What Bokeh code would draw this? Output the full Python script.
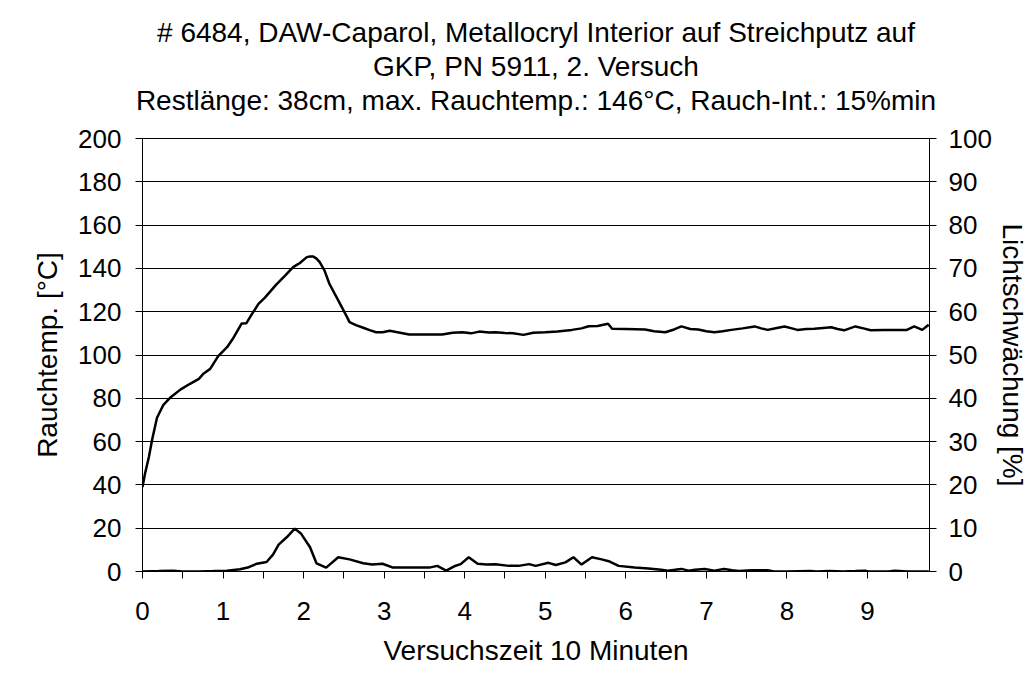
from bokeh.plotting import figure
from bokeh.models import Range1d, LinearAxis, FixedTicker, Title
from bokeh.embed import file_html
from bokeh.resources import INLINE

# ---- data ----
temp_time = [0.00, 0.03, 0.08, 0.12, 0.18, 0.26, 0.35, 0.47, 0.59, 0.70, 0.76, 0.84, 0.94,
             1.05, 1.13, 1.23, 1.29, 1.36, 1.44, 1.52, 1.59, 1.66, 1.77, 1.87, 1.91, 1.95,
             2.04, 2.08, 2.12, 2.16, 2.20, 2.26, 2.32, 2.43, 2.53, 2.57, 2.65, 2.74, 2.82,
             2.90, 2.98, 3.07, 3.15, 3.31, 3.50, 3.72, 3.85, 3.97, 4.08, 4.18, 4.30, 4.38,
             4.50, 4.60, 4.73, 4.85, 5.00, 5.15, 5.33, 5.45, 5.54, 5.65, 5.78, 5.83, 6.00,
             6.12, 6.24, 6.35, 6.49, 6.60, 6.69, 6.80, 6.90, 7.00, 7.10, 7.20, 7.31, 7.45,
             7.60, 7.68, 7.76, 7.86, 7.97, 8.05, 8.13, 8.24, 8.34, 8.45, 8.55, 8.63, 8.71,
             8.78, 8.85, 8.95, 9.04, 9.20, 9.35, 9.49, 9.58, 9.68, 9.76]
temp_values = [39, 45, 53, 61, 71, 77, 80.5, 84, 86.7, 89, 91.5, 93.6, 99.5,
               103.6, 108, 114.5, 114.7, 119, 123.6, 126.5, 129.5, 132.5, 136.7, 140.6, 141.5, 142.4,
               145.2, 145.5, 145.5, 144.5, 142.9, 139, 132.9, 125.2, 118.2, 115.2, 113.8, 112.6, 111.5,
               110.5, 110.5, 111.2, 110.6, 109.5, 109.5, 109.5, 110.3, 110.5, 110.0, 110.8, 110.4, 110.5,
               110.2, 110.0, 109.3, 110.3, 110.5, 110.9, 111.6, 112.3, 113.3, 113.4, 114.4, 112.1, 112.0,
               111.9, 111.8, 111.0, 110.5, 111.8, 113.2, 112.0, 111.8, 111.0, 110.5, 111.0, 111.6, 112.3,
               113.2, 112.3, 111.6, 112.4, 113.2, 112.4, 111.6, 112.0, 112.1, 112.5, 112.8, 112.0, 111.4,
               112.3, 113.2, 112.3, 111.4, 111.5, 111.6, 111.6, 113.2, 111.6, 114.0]

light_time = [0.00, 0.20, 0.38, 0.49, 0.70, 0.88, 1.05, 1.21, 1.32, 1.42, 1.54, 1.62, 1.69,
              1.79, 1.89, 1.97, 2.08, 2.16, 2.28, 2.43, 2.57, 2.74, 2.85, 2.98, 3.11, 3.30,
              3.56, 3.66, 3.77, 3.87, 3.95, 4.05, 4.16, 4.27, 4.38, 4.55, 4.67, 4.80, 4.88,
              5.04, 5.13, 5.25, 5.35, 5.45, 5.58, 5.70, 5.80, 5.91, 6.11, 6.28, 6.44, 6.52,
              6.61, 6.69, 6.78, 6.86, 6.98, 7.10, 7.22, 7.32, 7.40, 7.57, 7.76, 7.84, 8.00,
              8.29, 8.37, 8.53, 8.70, 8.85, 8.97, 9.01, 9.26, 9.34, 9.50, 9.69, 9.76]
light_values = [0.0, 0.1, 0.2, 0.0, 0.0, 0.1, 0.2, 0.5, 1.0, 1.8, 2.2, 3.9, 6.2,
                7.9, 9.9, 8.7, 5.6, 1.9, 0.9, 3.3, 2.8, 1.9, 1.6, 1.8, 0.9, 0.9,
                0.9, 1.3, 0.2, 1.2, 1.7, 3.3, 1.8, 1.6, 1.7, 1.3, 1.3, 1.7, 1.3,
                2.0, 1.5, 2.1, 3.3, 1.6, 3.3, 2.8, 2.3, 1.3, 0.9, 0.7, 0.4, 0.2,
                0.4, 0.6, 0.2, 0.4, 0.6, 0.2, 0.6, 0.3, 0.1, 0.3, 0.3, 0.0, 0.0,
                0.1, 0.0, 0.1, 0.0, 0.1, 0.2, 0.0, 0.0, 0.2, 0.0, 0.0, 0.0]

x_ticks = [0, 1, 2, 3, 4, 5, 6, 7, 8, 9]
x_minor_ticks = [0.5, 1.5, 2.5, 3.5, 4.5, 5.5, 6.5, 7.5, 8.5, 9.5]
left_ticks = [0, 20, 40, 60, 80, 100, 120, 140, 160, 180, 200]
right_ticks = [0, 10, 20, 30, 40, 50, 60, 70, 80, 90, 100]

title_lines = ["# 6484, DAW-Caparol, Metallocryl Interior auf Streichputz auf",
               "GKP, PN 5911, 2. Versuch",
               "Restlänge: 38cm, max. Rauchtemp.: 146°C, Rauch-Int.: 15%min"]
x_label = "Versuchszeit 10 Minuten"
left_label = "Rauchtemp. [°C]"
right_label = "Lichtschwächung [%]"

FONT = "Liberation Sans"
X_MAX, Y_MAX, PCT_MAX = 9.77, 200, 100

W, H = 1030, 677
LEFT, RIGHT, TOP, BOTTOM = 142, 932, 138, 571

p = figure(width=W, height=H, output_backend="svg", toolbar_location=None,
           x_range=Range1d(0, X_MAX), y_range=Range1d(0, Y_MAX),
           min_border_left=LEFT, min_border_right=W - RIGHT,
           min_border_top=TOP, min_border_bottom=H - BOTTOM)
p.extra_y_ranges = {"pct": Range1d(0, PCT_MAX)}

p.background_fill_color = "white"
p.border_fill_color = "white"
p.outline_line_color = "black"
p.outline_line_width = 1

# spacer between plot frame and the title block, then the three title lines
p.add_layout(Title(text=" ", text_font_size="1px", standoff=19), "above")
for txt in reversed(title_lines):
    p.add_layout(Title(text=txt, align="center", text_font=FONT, text_font_size="28px",
                       text_font_style="normal", text_color="black", standoff=1), "above")

xa = p.xaxis[0]
xa.ticker = FixedTicker(ticks=x_ticks, minor_ticks=x_minor_ticks)
xa.axis_label = x_label

ya = p.yaxis[0]
ya.ticker = FixedTicker(ticks=left_ticks)
ya.axis_label = left_label

ra = LinearAxis(y_range_name="pct", ticker=FixedTicker(ticks=right_ticks), axis_label=right_label)
p.add_layout(ra, "right")

for ax in [xa, ya, ra]:
    ax.axis_line_color = "black"
    ax.axis_line_width = 1
    ax.major_tick_line_color = "black"
    ax.minor_tick_line_color = "black"
    ax.major_tick_in = 0
    ax.major_tick_out = 7
    ax.minor_tick_in = 0
    ax.minor_tick_out = 7
    ax.major_label_text_font = FONT
    ax.major_label_text_font_size = "26px"
    ax.major_label_text_color = "black"
    ax.axis_label_text_font = FONT
    ax.axis_label_text_font_size = "28px"
    ax.axis_label_text_font_style = "normal"
    ax.axis_label_text_color = "black"

xa.major_label_standoff = 23
xa.axis_label_standoff = 12
ya.major_label_standoff = 14
ya.axis_label_standoff = 12
ra.major_label_standoff = 12
ra.axis_label_standoff = 2
ra.axis_label_orientation = "vertical"

p.xgrid.visible = False
p.ygrid.ticker = FixedTicker(ticks=left_ticks)
p.ygrid.grid_line_color = "black"
p.ygrid.grid_line_width = 1

p.line(temp_time, temp_values, line_color="black", line_width=2.5)
p.line(light_time, light_values, line_color="black", line_width=2.5, y_range_name="pct")

open("out.html", "w").write(file_html(p, INLINE))
